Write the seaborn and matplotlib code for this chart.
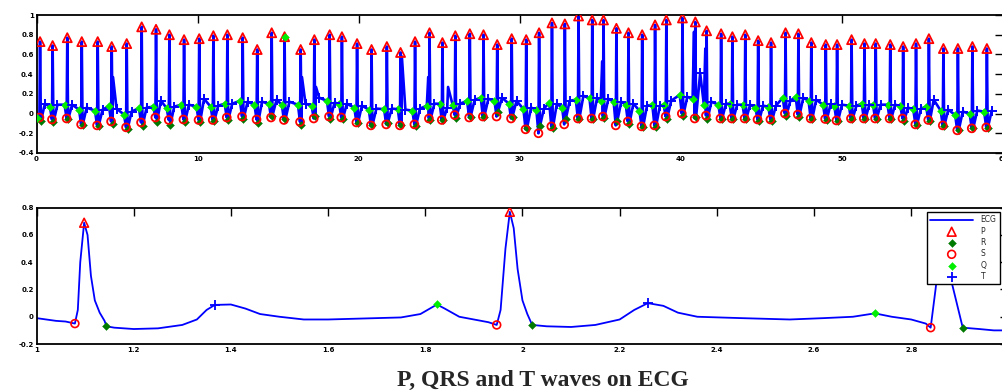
import matplotlib
matplotlib.use("Agg")
import numpy as np
import pandas as pd
import seaborn as sns
import matplotlib.pyplot as plt

# ---- top panel: one entry per beat (time of R peak, marker levels) ----
beat_t = [0.22, 1.0, 1.91, 2.81, 3.8, 4.67, 5.6, 6.53, 7.42, 8.25, 9.16, 10.1, 10.98, 11.85,
          12.8, 13.7, 14.6, 15.4, 16.4, 17.25, 18.2, 18.96, 19.9, 20.8, 21.75, 22.6, 23.5,
          24.4, 25.2, 26.0, 26.9, 27.75, 28.6, 29.5, 30.4, 31.2, 32.0, 32.8, 33.65, 34.5, 35.2, 36.0,
          36.75, 37.6, 38.4, 39.1, 40.1, 40.9, 41.6, 42.5, 43.2, 44.0, 44.8, 45.6, 46.5, 47.3, 48.1,
          49.0, 49.7, 50.6, 51.4, 52.1, 53.0, 53.8, 54.6, 55.4, 56.3, 57.2, 58.1, 59.0]
peak_v = [0.73, 0.69, 0.77, 0.73, 0.73, 0.68, 0.71, 0.88, 0.855, 0.80, 0.75, 0.76, 0.79, 0.80,
          0.77, 0.65, 0.82, 0.78, 0.65, 0.75, 0.80, 0.78, 0.71, 0.65, 0.68, 0.62, 0.73,
          0.82, 0.72, 0.79, 0.81, 0.80, 0.70, 0.76, 0.75, 0.82, 0.92, 0.91, 0.99, 0.95, 0.95, 0.865,
          0.82, 0.80, 0.90, 0.95, 0.97, 0.93, 0.84, 0.81, 0.78, 0.80, 0.74, 0.72, 0.82, 0.81, 0.72,
          0.70, 0.70, 0.75, 0.71, 0.71, 0.70, 0.68, 0.71, 0.76, 0.66, 0.66, 0.68, 0.66]
q_v = [-0.04, 0.07, 0.09, 0.04, 0.03, 0.075, -0.01, 0.055, 0.07, 0.055, 0.09, 0.07, 0.07, 0.10,
       0.13, 0.09, 0.10, 0.09, 0.09, 0.08, 0.13, 0.10, 0.06, 0.04, 0.045, 0.045, 0.03,
       0.08, 0.10, 0.09, 0.13, 0.16, 0.13, 0.10, 0.045, 0.04, 0.11, 0.06, 0.14, 0.155, 0.13, 0.12,
       0.09, 0.03, 0.09, 0.09, 0.19, 0.15, 0.09, 0.09, 0.10, 0.09, 0.06, 0.07, 0.16, 0.17, 0.13,
       0.09, 0.075, 0.08, 0.10, 0.09, 0.09, 0.075, 0.045, 0.07, 0.03, -0.015, 0.0, 0.02]
s_v = [-0.04, -0.06, -0.05, -0.11, -0.12, -0.08, -0.14, -0.09, -0.04, -0.065, -0.06, -0.065, -0.065, -0.04,
       -0.03, -0.06, -0.04, -0.065, -0.085, -0.05, -0.03, -0.04, -0.09, -0.12, -0.11, -0.12, -0.11,
       -0.05, -0.065, -0.015, -0.04, -0.03, -0.03, -0.05, -0.16, -0.20, -0.13, -0.11, -0.05, -0.05, -0.03, -0.12,
       -0.08, -0.13, -0.12, -0.03, 0.0, -0.05, -0.02, -0.05, -0.05, -0.05, -0.06, -0.06, 0.0, -0.01, -0.05,
       -0.055, -0.07, -0.05, -0.05, -0.05, -0.05, -0.05, -0.11, -0.065, -0.12, -0.17, -0.15, -0.14]
r_v = [-0.08, -0.09, -0.06, -0.12, -0.13, -0.11, -0.16, -0.13, -0.09, -0.12, -0.09, -0.09, -0.08, -0.065,
       -0.06, -0.10, -0.02, -0.06, -0.12, -0.02, -0.05, -0.06, -0.10, -0.12, -0.10, -0.12, -0.13,
       -0.065, -0.065, -0.04, -0.03, -0.03, 0.02, -0.03, -0.15, -0.13, -0.15, -0.06, -0.05, -0.06, -0.04, -0.08,
       -0.11, -0.14, -0.14, -0.05, -0.02, -0.03, -0.06, -0.06, -0.06, -0.06, -0.08, -0.08, -0.02, -0.03, -0.06,
       -0.07, -0.08, -0.06, -0.06, -0.06, -0.06, -0.08, -0.12, -0.08, -0.13, -0.17, -0.15, -0.15]
t_v = [0.10, 0.09, 0.09, 0.06, 0.04, 0.05, 0.02, 0.06, 0.13, 0.07, 0.09, 0.15, 0.08, 0.10,
       0.12, 0.12, 0.14, 0.12, 0.10, 0.16, 0.11, 0.10, 0.08, 0.05, 0.05, 0.04, 0.05,
       0.10, 0.06, 0.10, 0.14, 0.15, 0.16, 0.13, 0.06, 0.05, 0.10, 0.13, 0.18, 0.16, 0.15, 0.12,
       0.10, 0.08, 0.08, 0.13, 0.17, 0.41, 0.12, 0.10, 0.09, 0.09, 0.08, 0.08, 0.13, 0.16, 0.14,
       0.10, 0.09, 0.08, 0.09, 0.09, 0.09, 0.06, 0.05, 0.14, 0.04, 0.02, 0.03, 0.03]
q_on_peak = [17]  # beat whose peak also carries a Q marker
spike_t = [4.75, 16.48, 17.35, 22.68, 24.32, 25.55, 35.12, 40.82, 41.52]
spike_v = [0.37, 0.37, 0.27, 0.58, 0.37, 0.27, 0.53, 0.83, 0.66]

# ---- bottom panel: zoomed trace 1..3 s ----
ecg_t = [1.00, 1.02, 1.04, 1.06, 1.079, 1.085, 1.09, 1.098, 1.105, 1.112, 1.12, 1.13, 1.14, 1.144,
         1.16, 1.20, 1.25, 1.30, 1.33, 1.35, 1.367, 1.40, 1.43, 1.46, 1.50, 1.55, 1.60, 1.65, 1.70,
         1.75, 1.79, 1.824, 1.84, 1.87, 1.90, 1.93, 1.947, 1.955, 1.965, 1.974, 1.982, 1.99, 2.00,
         2.01, 2.02, 2.05, 2.10, 2.15, 2.20, 2.23, 2.258, 2.29, 2.32, 2.36, 2.45, 2.55, 2.62, 2.68,
         2.725, 2.76, 2.80, 2.83, 2.84, 2.85, 2.865, 2.88, 2.906, 2.94, 2.97, 3.00]
ecg_v = [-0.01, -0.02, -0.03, -0.035, -0.05, 0.05, 0.40, 0.69, 0.60, 0.30, 0.12, 0.03, -0.03, -0.07,
         -0.08, -0.09, -0.085, -0.06, -0.02, 0.05, 0.087, 0.09, 0.06, 0.02, 0.0, -0.02, -0.02, -0.015, -0.01,
         -0.005, 0.02, 0.09, 0.06, 0.0, -0.02, -0.04, -0.06, 0.05, 0.5, 0.77, 0.65, 0.35, 0.12,
         0.02, -0.06, -0.07, -0.075, -0.06, -0.02, 0.05, 0.10, 0.08, 0.03, 0.0, -0.01, -0.02, -0.01, 0.0,
         0.025, 0.0, -0.02, -0.05, -0.08, 0.2, 0.66, 0.3, -0.08, -0.09, -0.10, -0.10]
z_p_t, z_p_v = [1.098, 1.974, 2.865], [0.69, 0.77, 0.66]
z_r_t, z_r_v = [1.144, 2.02, 2.906], [-0.07, -0.06, -0.08]
z_s_t, z_s_v = [1.079, 1.947, 2.84], [-0.05, -0.06, -0.08]
z_q_t, z_q_v = [1.824, 2.725], [0.09, 0.025]
z_t_t, z_t_v = [1.367, 2.258], [0.087, 0.10]

top_xticks = [0, 10, 20, 30, 40, 50, 60]
top_yticks = [-0.4, -0.2, 0, 0.2, 0.4, 0.6, 0.8, 1]
bot_xticks = [1, 1.2, 1.4, 1.6, 1.8, 2, 2.2, 2.4, 2.6, 2.8]
bot_yticks = [-0.2, 0, 0.2, 0.4, 0.6, 0.8]

BLUE, RED, DGREEN, GREEN = "#0000ff", "#ff0000", "#007a00", "#00ee00"

sns.set_theme(style="white")
plt.rcParams["font.family"] = ["DejaVu Sans"]

fig = plt.figure(figsize=(10.03, 3.92), dpi=100)
ax1 = fig.add_axes([0.0364, 0.6097, 0.9636, 0.352])
ax2 = fig.add_axes([0.0364, 0.1224, 0.969, 0.3477])

# build top trace from beat landmarks
pts = []
for i, t in enumerate(beat_t):
    pts += [(t - 0.17, q_v[i]), (t - 0.04, s_v[i]), (t, peak_v[i]),
            (t + 0.05, r_v[i]), (t + 0.3, t_v[i])]
pts += list(zip(spike_t, spike_v))
pts = [(0.0, -0.02)] + sorted(pts)
trace = pd.DataFrame(pts, columns=["t", "v"])
sns.lineplot(data=trace, x="t", y="v", sort=False, estimator=None, color=BLUE, lw=1.9, ax=ax1)

bt = np.array(beat_t)
sns.scatterplot(x=bt, y=peak_v, marker="^", s=42, facecolors="none", edgecolor=RED, linewidth=1.3, ax=ax1, zorder=5)
sns.scatterplot(x=bt + 0.05, y=r_v, marker="D", s=16, color=DGREEN, edgecolor=DGREEN, ax=ax1, zorder=5)
sns.scatterplot(x=bt - 0.04, y=s_v, marker="o", s=32, facecolors="none", edgecolor=RED, linewidth=1.3, ax=ax1, zorder=5)
sns.scatterplot(x=bt - 0.17, y=q_v, marker="D", s=16, color=GREEN, edgecolor=GREEN, ax=ax1, zorder=6)
sns.scatterplot(x=[beat_t[i] for i in q_on_peak], y=[peak_v[i] for i in q_on_peak], marker="D", s=16,
                color=GREEN, edgecolor=GREEN, ax=ax1, zorder=6)
sns.scatterplot(x=bt + 0.3, y=t_v, marker="+", s=45, color=BLUE, linewidth=1.4, ax=ax1, zorder=6)

# bottom zoomed panel
zoom = pd.DataFrame({"t": ecg_t, "v": ecg_v})
sns.lineplot(data=zoom, x="t", y="v", sort=False, estimator=None, color=BLUE, lw=1.3, ax=ax2, label="ECG")
sns.scatterplot(x=z_p_t, y=z_p_v, marker="^", s=40, facecolors="none", edgecolor=RED, linewidth=1.2, ax=ax2, label="P", zorder=5)
sns.scatterplot(x=z_r_t, y=z_r_v, marker="D", s=16, color=DGREEN, edgecolor=DGREEN, ax=ax2, label="R", zorder=5)
sns.scatterplot(x=z_s_t, y=z_s_v, marker="o", s=32, facecolors="none", edgecolor=RED, linewidth=1.2, ax=ax2, label="S", zorder=5)
sns.scatterplot(x=z_q_t, y=z_q_v, marker="D", s=16, color=GREEN, edgecolor=GREEN, ax=ax2, label="Q", zorder=5)
sns.scatterplot(x=z_t_t, y=z_t_v, marker="+", s=45, color=BLUE, linewidth=1.3, ax=ax2, label="T", zorder=5)

for ax, xt, yt, xl, yl in [(ax1, top_xticks, top_yticks, (0, 60), (-0.4, 1)),
                           (ax2, bot_xticks, bot_yticks, (1, 3), (-0.2, 0.8))]:
    ax.set_xlim(*xl)
    ax.set_ylim(*yl)
    ax.set_xticks(xt, [f"{v:g}" for v in xt])
    ax.set_yticks(yt, [f"{v:g}" for v in yt])
    ax.set_xlabel("")
    ax.set_ylabel("")
    ax.tick_params(direction="in", length=6, width=1, labelsize=5, pad=2,
                   top=True, right=True, colors="black")
    for lab in ax.get_xticklabels() + ax.get_yticklabels():
        lab.set_fontweight("bold")
    for sp in ax.spines.values():
        sp.set_color("black")
        sp.set_linewidth(1.3)

leg = ax2.legend(loc="upper right", bbox_to_anchor=(1000 / 1003, 1 - 212 / 392),
                 bbox_transform=fig.transFigure, borderaxespad=0, fontsize=5.5,
                 handlelength=5.6, labelspacing=0.3, fancybox=False, framealpha=1,
                 edgecolor="black", borderpad=0.45, handletextpad=1.0)
leg.get_frame().set_linewidth(1.0)
leg.set_zorder(20)

fig.text(0.541, 0.003, "P, QRS and T waves on ECG", ha="center", va="bottom",
         family="Liberation Serif", weight="bold", fontsize=17)

fig.savefig("out.png", dpi=100)
